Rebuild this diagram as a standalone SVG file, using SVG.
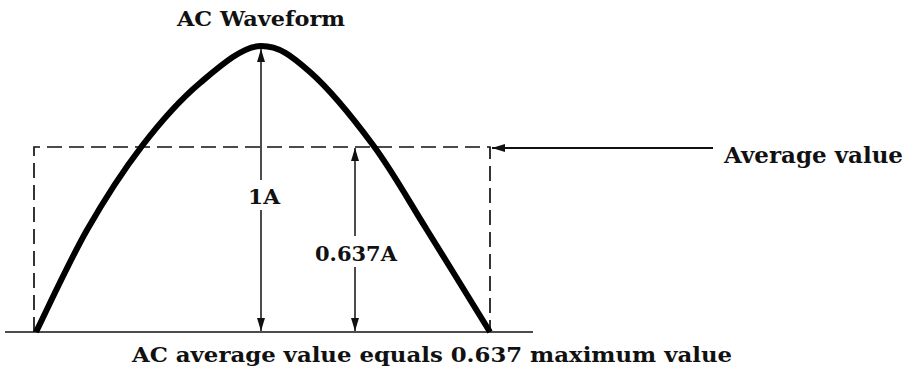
<svg xmlns="http://www.w3.org/2000/svg" width="915" height="375" viewBox="0 0 915 375">
  <style>
    .t { font-family: "DejaVu Serif", "Liberation Serif", serif; font-weight: bold; fill: #111; }
    .dash { fill: none; stroke: #111; stroke-width: 1.7; stroke-dasharray: 15 7; }
    .thin { fill: none; stroke: #111; stroke-width: 1.5; }
    .wave { fill: none; stroke: #000; stroke-width: 6; stroke-linecap: butt; }
  </style>
  <defs>
    <marker id="ah" markerUnits="userSpaceOnUse" markerWidth="14" markerHeight="10" refX="13" refY="5" orient="auto">
      <path d="M0,1 L13,5 L0,9 Z" fill="#111"/>
    </marker>
  </defs>
  <rect width="915" height="375" fill="#fff"/>

  <g id="axis">
    <line class="thin" x1="5" y1="332" x2="533" y2="332"/>
  </g>

  <g id="average-box">
    <path class="dash" d="M34,332 V147 H490 V332"/>
  </g>

  <g id="waveform">
    <path class="wave" d="M36,332 C44.5,315 69.3,261 87,230 C104.7,199 123.2,170.5 142,146 C160.8,121.5 180.2,99.7 200,83 C219.8,66.3 242.7,46 261,46 C279.3,46 291.3,55.5 310,72 C328.7,88.5 353.5,118.7 373,145 C392.5,171.3 407.5,198.8 427,230 C446.5,261.2 479.5,315 490,332"/>
  </g>

  <g id="connectors">
    <line class="thin" x1="261" y1="180" x2="261" y2="49" marker-end="url(#ah)"/>
    <line class="thin" x1="261" y1="210" x2="261" y2="331" marker-end="url(#ah)"/>
    <line class="thin" x1="355" y1="236" x2="355" y2="148" marker-end="url(#ah)"/>
    <line class="thin" x1="355" y1="267" x2="355" y2="331" marker-end="url(#ah)"/>
    <line x1="713" y1="148" x2="492" y2="148" stroke="#111" stroke-width="2" marker-end="url(#ah)"/>
  </g>

  <g id="title">
    <text class="t" x="177" y="26" font-size="20" textLength="168" lengthAdjust="spacingAndGlyphs">AC Waveform</text>
  </g>
  <g id="label-1A">
    <text class="t" x="248" y="204" font-size="21" textLength="32" lengthAdjust="spacingAndGlyphs">1A</text>
  </g>
  <g id="label-0637A">
    <text class="t" x="315" y="261" font-size="21" textLength="82" lengthAdjust="spacingAndGlyphs">0.637A</text>
  </g>
  <g id="label-average">
    <text class="t" x="724" y="163" font-size="22" textLength="179" lengthAdjust="spacingAndGlyphs">Average value</text>
  </g>
  <g id="caption">
    <text class="t" x="132" y="362" font-size="21" textLength="600" lengthAdjust="spacingAndGlyphs">AC average value equals 0.637 maximum value</text>
  </g>
</svg>
